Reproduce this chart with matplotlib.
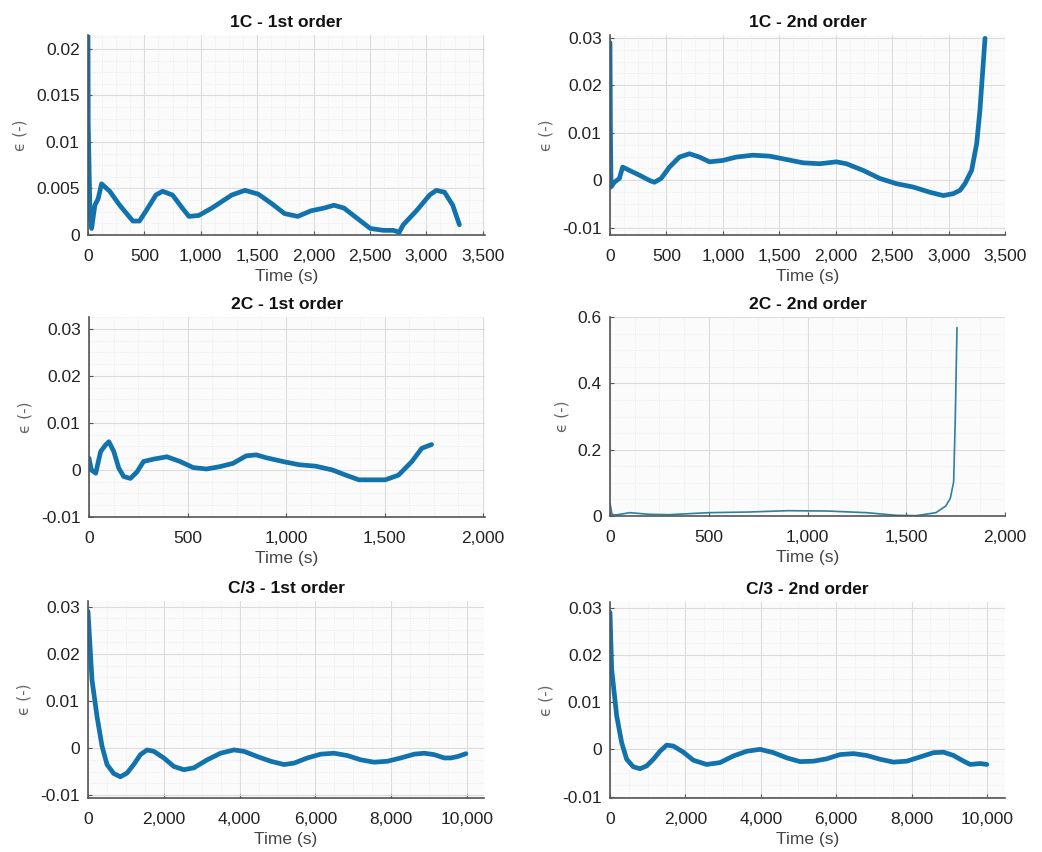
import matplotlib
matplotlib.use("Agg")
import matplotlib.pyplot as plt
from matplotlib.ticker import FuncFormatter, AutoMinorLocator

plt.rcParams['font.family'] = ['Liberation Sans', 'DejaVu Sans']

# ---- data ----
t_1c_1 = [0, 2, 18, 32, 61, 90, 120, 193, 281, 398, 456, 515, 602, 661, 749, 836, 895, 982,
          1099, 1275, 1392, 1509, 1626, 1743, 1860, 1977, 2094, 2181, 2269, 2386, 2503, 2620,
          2708, 2760, 2795, 2912, 3029, 3088, 3161, 3234, 3293]
e_1c_1 = [0.0215, 0.012, 0.0021, 0.0007, 0.0032, 0.0039, 0.0055, 0.0047, 0.0032, 0.0015, 0.0015,
          0.0026, 0.0043, 0.0047, 0.0043, 0.0029, 0.0020, 0.0021, 0.0029, 0.0043, 0.0048, 0.0044,
          0.0034, 0.0023, 0.0020, 0.0026, 0.0029, 0.0032, 0.0029, 0.0018, 0.0007, 0.0005, 0.0005,
          0.0003, 0.0011, 0.0026, 0.0043, 0.0048, 0.0046, 0.0032, 0.0011]

t_1c_2 = [0, 4, 9, 38, 83, 112, 172, 260, 349, 393, 453, 527, 615, 704, 793, 882, 1000, 1118,
          1266, 1414, 1562, 1710, 1858, 2006, 2095, 2243, 2391, 2538, 2686, 2834, 2953, 3041,
          3101, 3145, 3204, 3249, 3278, 3323]
e_1c_2 = [0.029, 0.010, -0.0014, -0.0004, 0.0004, 0.0028, 0.0021, 0.0011, 0.0, -0.0004, 0.0004,
          0.0028, 0.0049, 0.0056, 0.0049, 0.0039, 0.0042, 0.0049, 0.0053, 0.0051, 0.0044, 0.0037,
          0.0035, 0.0039, 0.0035, 0.0021, 0.0004, -0.0007, -0.0014, -0.0025, -0.0032, -0.0028,
          -0.0021, -0.0007, 0.0021, 0.0077, 0.0148, 0.0299]

t_2c_1 = [0, 12, 34, 59, 84, 101, 126, 151, 176, 210, 244, 277, 328, 395, 462, 529, 597, 664,
          731, 798, 849, 899, 983, 1067, 1151, 1235, 1303, 1370, 1437, 1504, 1571, 1639, 1689, 1739]
e_2c_1 = [0.0025, 0.0, -0.0007, 0.0039, 0.0053, 0.0060, 0.0039, 0.0004, -0.0014, -0.0018, -0.0004,
          0.0018, 0.0023, 0.0028, 0.0018, 0.0005, 0.0002, 0.0007, 0.0014, 0.0030, 0.0032, 0.0026,
          0.0018, 0.0011, 0.0008, 0.0, -0.0011, -0.0021, -0.0021, -0.0021, -0.0011, 0.0018,
          0.0046, 0.0054]

t_2c_2 = [0, 10, 30, 100, 200, 300, 500, 700, 900, 1100, 1300, 1450, 1550, 1650, 1700, 1723,
          1740, 1748, 1757]
e_2c_2 = [0.038, 0.005, 0.003, 0.010, 0.005, 0.004, 0.010, 0.012, 0.016, 0.015, 0.010, 0.002,
          0.001, 0.010, 0.030, 0.053, 0.103, 0.29, 0.568]

t_c3_1 = [0, 106, 238, 370, 502, 678, 855, 1031, 1207, 1383, 1559, 1736, 2000, 2264, 2529, 2793,
          3145, 3498, 3850, 4115, 4467, 4819, 5172, 5436, 5789, 6141, 6493, 6846, 7198, 7551,
          7903, 8256, 8608, 8872, 9137, 9401, 9577, 9753, 9974]
e_c3_1 = [0.029, 0.0144, 0.0067, 0.0004, -0.0035, -0.0054, -0.0061, -0.0053, -0.0035, -0.0014,
          -0.0004, -0.0007, -0.0021, -0.0039, -0.0046, -0.0042, -0.0025, -0.0011, -0.0004, -0.0007,
          -0.0018, -0.0028, -0.0035, -0.0032, -0.0021, -0.0013, -0.0011, -0.0016, -0.0025, -0.0030,
          -0.0028, -0.0021, -0.0013, -0.0011, -0.0014, -0.0021, -0.0021, -0.0018, -0.0012]

t_c3_2 = [0, 44, 177, 310, 442, 619, 796, 973, 1150, 1327, 1504, 1681, 1947, 2212, 2566, 2920,
          3274, 3628, 3982, 4336, 4690, 5044, 5398, 5752, 6106, 6460, 6814, 7168, 7522, 7876,
          8230, 8584, 8850, 9115, 9381, 9558, 9823, 10000]
e_c3_2 = [0.029, 0.017, 0.0071, 0.0014, -0.0021, -0.0037, -0.0041, -0.0035, -0.0021, -0.0004,
          0.0009, 0.0007, -0.0006, -0.0023, -0.0032, -0.0028, -0.0014, -0.0004, 0.0, -0.0007,
          -0.0018, -0.0026, -0.0025, -0.0020, -0.0011, -0.0009, -0.0013, -0.0021, -0.0027,
          -0.0025, -0.0016, -0.0007, -0.0006, -0.0013, -0.0025, -0.0032, -0.0030, -0.0032]

titles = ["1C - 1st order", "1C - 2nd order", "2C - 1st order", "2C - 2nd order",
          "C/3 - 1st order", "C/3 - 2nd order"]
series = [(t_1c_1, e_1c_1), (t_1c_2, e_1c_2), (t_2c_1, e_2c_1), (t_2c_2, e_2c_2),
          (t_c3_1, e_c3_1), (t_c3_2, e_c3_2)]
xticks = [[0, 500, 1000, 1500, 2000, 2500, 3000, 3500]] * 2 + \
         [[0, 500, 1000, 1500, 2000]] * 2 + \
         [[0, 2000, 4000, 6000, 8000, 10000]] * 2
yticks = [[0, 0.005, 0.01, 0.015, 0.02],
          [-0.01, 0, 0.01, 0.02, 0.03],
          [-0.01, 0, 0.01, 0.02, 0.03],
          [0, 0.2, 0.4, 0.6],
          [-0.01, 0, 0.01, 0.02, 0.03],
          [-0.01, 0, 0.01, 0.02, 0.03]]
ytick_labels = [["0", "0.005", "0.01", "0.015", "0.02"],
                ["-0.01", "0", "0.01", "0.02", "0.03"],
                ["-0.01", "0", "0.01", "0.02", "0.03"],
                ["0", "0.2", "0.4", "0.6"],
                ["-0.01", "0", "0.01", "0.02", "0.03"],
                ["-0.01", "0", "0.01", "0.02", "0.03"]]
xlims = [(0, 3520), (0, 3500), (0, 2010), (0, 2000), (0, 10450), (0, 10480)]
ylims = [(0, 0.0215), (-0.0115, 0.0306), (-0.01, 0.0325), (0, 0.6),
         (-0.0106, 0.0312), (-0.0103, 0.0312)]

# ---- layout (pixel boxes: left, right, top, bottom) ----
W, H = 1042, 852
boxes = [(88, 485, 35, 235), (610, 1005, 35, 235),
         (89, 485, 317, 517), (610, 1005, 317, 516),
         (88, 484, 601, 798), (610, 1005, 602, 798)]

fig = plt.figure(figsize=(W / 100, H / 100), dpi=100)
fig.patch.set_facecolor("white")
line_color = "#1272ab"

for i in range(6):
    l, r, t, b = boxes[i]
    ax = fig.add_axes([l / W, 1 - b / H, (r - l) / W, (b - t) / H])
    ax.set_facecolor("#fbfbfb")
    x, y = series[i]
    lw = 1.2 if i == 3 else 3.4
    ax.plot(x, y, color=line_color if i != 3 else "#2f7fa0", lw=lw,
            solid_joinstyle="round", solid_capstyle="round")
    ax.set_xlim(*xlims[i])
    ax.set_ylim(*ylims[i])
    ax.set_xticks(xticks[i])
    ax.xaxis.set_major_formatter(FuncFormatter(lambda v, p: f"{int(round(v)):,}"))
    ax.set_yticks(yticks[i])
    ax.set_yticklabels(ytick_labels[i])
    ax.xaxis.set_minor_locator(AutoMinorLocator(4))
    ax.yaxis.set_minor_locator(AutoMinorLocator(4))
    ax.grid(True, which="major", color="#dcdcdc", lw=0.8)
    ax.grid(True, which="minor", color="#e8e8e8", lw=0.6, ls=":")
    ax.set_axisbelow(True)
    for s in ["top", "right"]:
        ax.spines[s].set_visible(False)
    for s in ["left", "bottom"]:
        ax.spines[s].set_color("#555555")
        ax.spines[s].set_linewidth(1.2)
    ax.tick_params(which="major", direction="in", length=3, color="#555555",
                   labelsize=12.5, labelcolor="#222222")
    ax.tick_params(axis="x", which="major", pad=10)
    ax.tick_params(axis="y", which="major", pad=6)
    ax.tick_params(which="minor", length=0)
    ax.set_title(titles[i], fontsize=12.5, fontweight="bold", pad=6, color="#111111")
    ax.set_xlabel("Time (s)", fontsize=12.5, color="#444444", labelpad=4)
    ax.set_ylabel("ϵ (-)", fontsize=11, color="#666666", labelpad=6,
                  family=["DejaVu Sans"])

fig.savefig("out.png", dpi=100)
